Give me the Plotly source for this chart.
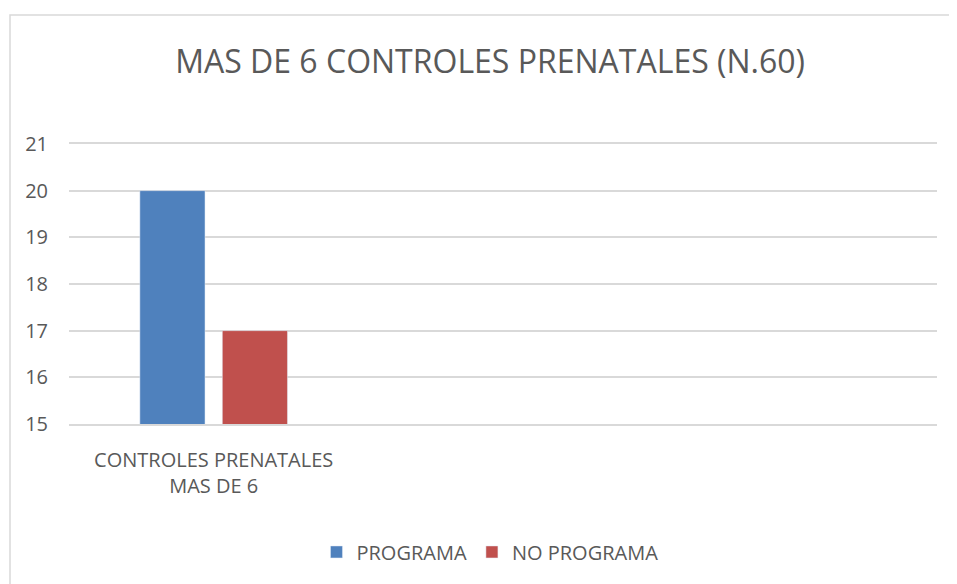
import plotly.graph_objects as go

# datos
categorias = ["CONTROLES PRENATALES<br>MAS DE 6"]
programa = [20]
no_programa = [17]

GRIS = "#595959"
FUENTE = "Open Sans, Calibri, sans-serif"

fig = go.Figure()
fig.add_trace(go.Bar(x=categorias, y=programa, name="PROGRAMA", marker_color="#4f81bd"))
fig.add_trace(go.Bar(x=categorias, y=no_programa, name="NO PROGRAMA", marker_color="#c0504d"))

# la página html añade 8px de margen, por eso 949x576
fig.update_layout(
    width=949, height=576,
    paper_bgcolor="white", plot_bgcolor="white",
    margin=dict(l=61, r=20, t=136, b=160),
    font=dict(family=FUENTE, color=GRIS, size=20),
    title=dict(text="MAS DE 6 CONTROLES PRENATALES (N.60)", x=0.508, xanchor="center",
               y=1 - 54 / 576, yanchor="middle",
               font=dict(size=32, color=GRIS, family=FUENTE)),
    barmode="group", bargap=0.43, bargroupgap=0.21,
    legend=dict(orientation="h", x=0.485, xanchor="center", y=-0.457, yanchor="middle",
                font=dict(size=20, color=GRIS), itemwidth=30),
    showlegend=True,
)
# las líneas de 15 y 21 quedan en los bordes: se dibujan como línea del eje (con espejo)
fig.update_xaxes(type="category", range=[-0.5, 2.5], showgrid=False,
                 showline=True, mirror=True, linecolor="#d9d9d9", linewidth=1.5,
                 ticks="", ticklabelstandoff=17, tickfont=dict(size=20, color=GRIS))
fig.update_yaxes(range=[15, 21], dtick=1, showgrid=True, gridcolor="#d9d9d9", gridwidth=1.5,
                 zeroline=False, showline=False, ticks="", ticklabelstandoff=20,
                 tickfont=dict(size=20, color=GRIS))

# borde del área del gráfico
fig.add_shape(type="rect", xref="paper", yref="paper",
              x0=-59 / 868, x1=1 + 40 / 868, y0=-180 / 280, y1=1 + 129 / 280,
              line=dict(color="#d9d9d9", width=1.5), fillcolor="rgba(0,0,0,0)", layer="below")

fig.write_html("out.html")
